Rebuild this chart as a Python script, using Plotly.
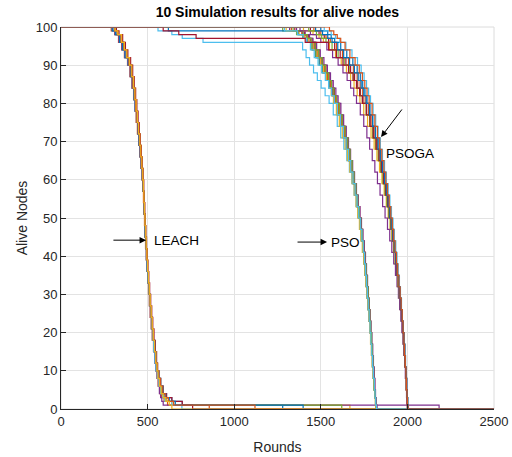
import plotly.graph_objects as go

# MATLAB default colour order
colors = ["#0072BD", "#D95319", "#EDB120", "#7E2F8E", "#77AC30", "#4DBEEE", "#A2142F"]

x_ticks = [0, 500, 1000, 1500, 2000, 2500]
y_ticks = [0, 10, 20, 30, 40, 50, 60, 70, 80, 90, 100]

# alive-node levels; each run lists the round at which it reaches each level
leach_levels = [100, 99, 98, 96, 94, 92, 90, 87, 84, 81, 78, 75, 72, 69, 66, 63, 60, 57, 54, 51,
                48, 45, 42, 39, 36, 33, 30, 27, 24, 21, 18, 15, 12, 10, 8, 6, 4, 3, 2, 1, 0]
leach_runs = [
    [0, 305, 322, 345, 362, 378, 393, 406, 416, 424, 432, 439, 446, 452, 459, 465, 471, 475, 478, 481,
     484, 487, 490, 494, 498, 503, 508, 513, 518, 524, 530, 538, 545, 552, 560, 570, 585, 600, 640, 700, 1280],
    [0, 290, 310, 332, 350, 366, 384, 398, 410, 419, 427, 434, 441, 448, 455, 462, 468, 472, 476, 479,
     482, 485, 488, 492, 496, 500, 505, 510, 515, 521, 527, 534, 541, 547, 554, 561, 570, 580, 595, 615, 856],
    [0, 315, 330, 352, 368, 382, 398, 410, 420, 428, 435, 442, 449, 456, 462, 467, 472, 476, 479, 482,
     485, 488, 492, 496, 500, 505, 510, 516, 521, 527, 533, 540, 548, 555, 562, 570, 580, 592, 610, 640, 1668],
    [0, 298, 312, 335, 352, 368, 386, 400, 411, 420, 428, 436, 443, 450, 457, 463, 469, 473, 477, 480,
     483, 486, 489, 493, 497, 501, 506, 511, 516, 522, 528, 535, 542, 548, 555, 562, 568, 575, 582, 590, 2183],
    [0, 310, 326, 348, 365, 380, 395, 408, 418, 426, 433, 440, 447, 454, 460, 466, 471, 475, 478, 481,
     484, 487, 491, 495, 499, 504, 509, 514, 519, 525, 531, 538, 546, 553, 561, 569, 578, 590, 605, 650, 1621],
    [0, 302, 318, 340, 356, 372, 389, 402, 413, 421, 429, 437, 444, 451, 458, 464, 470, 474, 477, 480,
     483, 486, 489, 493, 497, 501, 506, 511, 517, 522, 528, 535, 542, 548, 556, 565, 575, 588, 600, 640, 698],
    [0, 320, 335, 356, 372, 386, 402, 414, 423, 431, 438, 445, 452, 458, 464, 469, 474, 478, 481, 484,
     487, 490, 494, 498, 502, 507, 512, 518, 524, 530, 537, 545, 552, 558, 565, 575, 590, 610, 640, 700, 760],
    [0, 295, 314, 338, 355, 370, 388, 401, 412, 421, 429, 436, 443, 450, 457, 463, 469, 473, 477, 480,
     483, 486, 490, 494, 498, 503, 508, 514, 520, 526, 533, 541, 549, 557, 566, 576, 590, 605, 625, 660, 1398],
    [0, 308, 324, 346, 363, 377, 392, 405, 415, 423, 431, 438, 445, 452, 458, 464, 470, 474, 477, 480,
     484, 487, 491, 495, 499, 504, 509, 514, 520, 526, 532, 540, 548, 556, 565, 575, 588, 602, 620, 650, 1120],
    [0, 312, 328, 350, 366, 380, 396, 409, 419, 427, 434, 441, 448, 455, 461, 467, 472, 476, 479, 482,
     485, 489, 492, 496, 500, 505, 510, 515, 521, 527, 533, 540, 547, 554, 560, 568, 578, 590, 605, 625, 640],
]

pso_levels = [100, 99, 98, 97, 96, 94, 92, 90, 88, 86, 84, 82, 80, 77, 74, 71, 68, 65, 62, 59,
              56, 53, 50, 47, 44, 41, 38, 35, 32, 29, 26, 23, 20, 17, 14, 11, 8, 5, 3, 1, 0]
pso_runs = [
    [0, 1320, 1395, 1420, 1440, 1462, 1482, 1502, 1522, 1540, 1556, 1572, 1586, 1604, 1621, 1638, 1652, 1665, 1678, 1690,
     1701, 1712, 1722, 1731, 1739, 1747, 1754, 1760, 1766, 1771, 1776, 1781, 1786, 1791, 1796, 1801, 1806, 1810, 1814, 1818, 1822],
    [0, 1280, 1360, 1395, 1420, 1448, 1470, 1490, 1510, 1530, 1548, 1565, 1580, 1598, 1615, 1632, 1647, 1660, 1673, 1685,
     1696, 1706, 1716, 1725, 1733, 1741, 1748, 1755, 1761, 1767, 1772, 1777, 1782, 1788, 1793, 1798, 1803, 1808, 1812, 1816, 1820],
    [0, 560, 640, 700, 820, 1395, 1415, 1435, 1458, 1480, 1502, 1525, 1548, 1572, 1595, 1615, 1633, 1650, 1665, 1679,
     1692, 1704, 1715, 1725, 1734, 1742, 1750, 1757, 1763, 1769, 1774, 1779, 1784, 1789, 1794, 1799, 1804, 1809, 1813, 1817, 1821],
    [0, 1350, 1405, 1430, 1450, 1470, 1490, 1510, 1530, 1548, 1564, 1579, 1593, 1610, 1627, 1643, 1657, 1670, 1682, 1694,
     1705, 1715, 1725, 1734, 1742, 1750, 1757, 1763, 1768, 1773, 1778, 1783, 1788, 1793, 1798, 1802, 1807, 1811, 1815, 1819, 1823],
    [0, 620, 1370, 1400, 1425, 1452, 1474, 1494, 1514, 1533, 1550, 1566, 1581, 1599, 1617, 1634, 1649, 1662, 1675, 1687,
     1698, 1709, 1719, 1728, 1736, 1744, 1751, 1757, 1763, 1768, 1773, 1778, 1783, 1788, 1793, 1798, 1803, 1808, 1812, 1816, 1820],
    [0, 1330, 1390, 1415, 1438, 1460, 1480, 1500, 1520, 1539, 1556, 1571, 1585, 1603, 1620, 1637, 1651, 1664, 1677, 1689,
     1700, 1711, 1721, 1730, 1738, 1746, 1753, 1759, 1765, 1770, 1775, 1780, 1785, 1790, 1795, 1800, 1805, 1809, 1813, 1817, 1821],
    [0, 1300, 1375, 1405, 1428, 1455, 1478, 1498, 1516, 1532, 1546, 1560, 1573, 1590, 1607, 1624, 1640, 1654, 1668, 1681,
     1693, 1704, 1714, 1723, 1732, 1740, 1748, 1755, 1761, 1767, 1772, 1777, 1782, 1787, 1792, 1797, 1802, 1807, 1811, 1815, 1819],
    [0, 1360, 1410, 1435, 1455, 1476, 1497, 1518, 1538, 1556, 1572, 1587, 1600, 1616, 1632, 1647, 1660, 1672, 1684, 1695,
     1706, 1716, 1726, 1735, 1743, 1751, 1758, 1764, 1770, 1775, 1780, 1785, 1790, 1795, 1800, 1804, 1808, 1812, 1816, 1820, 1824],
    [0, 1340, 1398, 1422, 1445, 1468, 1488, 1508, 1527, 1545, 1561, 1576, 1590, 1607, 1624, 1641, 1656, 1669, 1681, 1692,
     1703, 1713, 1722, 1731, 1739, 1747, 1754, 1761, 1767, 1773, 1778, 1783, 1788, 1793, 1797, 1801, 1805, 1809, 1813, 1817, 1821],
    [0, 1290, 1365, 1398, 1418, 1440, 1462, 1484, 1505, 1526, 1545, 1562, 1578, 1596, 1614, 1631, 1646, 1660, 1673, 1686,
     1698, 1709, 1719, 1728, 1737, 1745, 1752, 1758, 1764, 1769, 1774, 1779, 1784, 1789, 1794, 1799, 1804, 1809, 1813, 1817, 1822],
]

psoga_levels = [100, 99, 98, 97, 96, 94, 92, 90, 88, 86, 84, 82, 80, 77, 74, 71, 68, 65, 62, 59,
                56, 53, 50, 47, 44, 41, 38, 35, 32, 29, 26, 23, 20, 17, 14, 11, 8, 5, 3, 1, 0]
psoga_runs = [
    [0, 1440, 1490, 1520, 1545, 1580, 1612, 1645, 1672, 1695, 1713, 1729, 1744, 1765, 1784, 1802, 1818, 1833, 1847, 1860,
     1872, 1883, 1893, 1903, 1913, 1922, 1931, 1939, 1947, 1954, 1961, 1967, 1973, 1978, 1983, 1987, 1991, 1995, 1998, 2000, 2002],
    [0, 1500, 1540, 1560, 1580, 1615, 1650, 1685, 1710, 1728, 1742, 1755, 1767, 1784, 1800, 1816, 1830, 1844, 1857, 1869,
     1880, 1890, 1900, 1909, 1918, 1927, 1935, 1943, 1950, 1957, 1963, 1969, 1974, 1979, 1984, 1988, 1992, 1995, 1998, 2001, 2004],
    [0, 1460, 1500, 1530, 1555, 1590, 1625, 1660, 1688, 1710, 1727, 1742, 1756, 1776, 1795, 1812, 1827, 1841, 1854, 1866,
     1877, 1887, 1897, 1907, 1916, 1925, 1933, 1941, 1949, 1956, 1962, 1968, 1973, 1978, 1983, 1987, 1991, 1994, 1997, 1999, 2001],
    [0, 1400, 1455, 1490, 1515, 1550, 1585, 1618, 1648, 1672, 1692, 1710, 1726, 1748, 1770, 1790, 1808, 1824, 1839, 1853,
     1866, 1878, 1889, 1900, 1910, 1920, 1929, 1938, 1946, 1953, 1960, 1966, 1972, 1977, 1982, 1986, 1990, 1993, 1996, 1998, 2000],
    [0, 1380, 1440, 1475, 1500, 1535, 1568, 1600, 1628, 1652, 1672, 1690, 1706, 1728, 1748, 1766, 1782, 1797, 1812, 1827,
     1842, 1857, 1871, 1885, 1898, 1910, 1921, 1931, 1940, 1948, 1955, 1962, 1968, 1974, 1979, 1984, 1988, 1992, 1995, 1997, 1999],
    [0, 1430, 1475, 1505, 1530, 1565, 1600, 1635, 1664, 1688, 1707, 1724, 1740, 1762, 1782, 1800, 1817, 1832, 1846, 1859,
     1871, 1882, 1892, 1902, 1912, 1921, 1930, 1938, 1946, 1953, 1960, 1966, 1972, 1977, 1982, 1986, 1990, 1994, 1997, 2000, 2003],
    [0, 1520, 1560, 1585, 1610, 1645, 1680, 1712, 1733, 1750, 1764, 1776, 1787, 1802, 1817, 1831, 1844, 1856, 1868, 1879,
     1889, 1899, 1908, 1917, 1925, 1933, 1940, 1947, 1954, 1960, 1966, 1971, 1976, 1981, 1985, 1989, 1993, 1996, 1999, 2002, 2005],
    [0, 590, 680, 780, 1410, 1545, 1590, 1628, 1660, 1686, 1706, 1724, 1740, 1763, 1784, 1803, 1820, 1836, 1850, 1863,
     1875, 1886, 1896, 1906, 1915, 1924, 1932, 1940, 1948, 1955, 1961, 1967, 1973, 1978, 1983, 1987, 1991, 1995, 1998, 2000, 2003],
    [0, 1470, 1510, 1540, 1565, 1598, 1632, 1666, 1694, 1716, 1733, 1748, 1762, 1781, 1799, 1815, 1830, 1843, 1856, 1868,
     1879, 1889, 1899, 1908, 1917, 1926, 1934, 1942, 1950, 1957, 1963, 1969, 1975, 1980, 1985, 1989, 1993, 1996, 1999, 2002, 2006],
    [0, 1550, 1575, 1595, 1615, 1640, 1668, 1698, 1722, 1740, 1754, 1767, 1779, 1796, 1812, 1827, 1840, 1852, 1864, 1875,
     1885, 1895, 1904, 1913, 1921, 1929, 1937, 1944, 1951, 1958, 1964, 1970, 1975, 1980, 1984, 1988, 1992, 1995, 1998, 2001, 2004],
]

max_round = 2500

fig = go.Figure()
k = 0
for levels, runs in [(leach_levels, leach_runs), (pso_levels, pso_runs), (psoga_levels, psoga_runs)]:
    for run in runs:
        xs = list(run) + [max_round]
        ys = list(levels[:len(run)]) + [levels[len(run) - 1]]
        fig.add_trace(go.Scatter(x=xs, y=ys, mode="lines", line=dict(color=colors[k % 7], width=1.2, shape="hv"),
                                 showlegend=False, hoverinfo="skip"))
        k += 1

font_family = "Liberation Sans, Arial, sans-serif"
ann_font = dict(family=font_family, size=13.5, color="black")

fig.add_annotation(x=491, y=44.2, ax=294, ay=44.2, xref="x", yref="y", axref="x", ayref="y",
                   showarrow=True, arrowhead=2, arrowsize=1.3, arrowwidth=1, arrowcolor="black", text="")
fig.add_annotation(x=525, y=44.2, text="LEACH", showarrow=False, xanchor="left", font=ann_font)
fig.add_annotation(x=1536, y=43.7, ax=1357, ay=43.7, xref="x", yref="y", axref="x", ayref="y",
                   showarrow=True, arrowhead=2, arrowsize=1.3, arrowwidth=1, arrowcolor="black", text="")
fig.add_annotation(x=1545, y=43.7, text="PSO", showarrow=False, xanchor="left", font=ann_font)
fig.add_annotation(x=1848, y=71.2, ax=1975, ay=78.8, xref="x", yref="y", axref="x", ayref="y",
                   showarrow=True, arrowhead=2, arrowsize=1.3, arrowwidth=1, arrowcolor="black", text="")
fig.add_annotation(x=1862, y=66.8, text="PSOGA", showarrow=False, xanchor="left", font=ann_font)

# light frame on top/right like the reference
fig.add_shape(type="rect", xref="paper", yref="paper", x0=0, y0=0, x1=1, y1=1,
              line=dict(color="#dcdcdc", width=1), layer="below")

axis_common = dict(showgrid=True, gridcolor="#e3e3e3", gridwidth=1, zeroline=False,
                   showline=True, linecolor="#262626", linewidth=1, automargin=False,
                   ticks="inside", ticklen=5, tickcolor="#262626",
                   tickfont=dict(family=font_family, size=13, color="#262626"))

fig.update_layout(
    width=512, height=457,
    margin=dict(l=61, r=18, t=27, b=48),
    paper_bgcolor="white", plot_bgcolor="white",
    title=dict(text="<b>10 Simulation results for alive nodes</b>", x=0.5418, xanchor="center",
               y=0.985, yanchor="top", font=dict(family=font_family, size=14, color="black")),
    xaxis=dict(range=[0, 2500], tickvals=x_ticks, title=dict(text="Rounds", standoff=14,
               font=dict(family=font_family, size=14, color="#262626")), **axis_common),
    yaxis=dict(range=[0, 100], tickvals=y_ticks, title=dict(text="Alive Nodes", standoff=4,
               font=dict(family=font_family, size=14, color="#262626")), **axis_common),
)

fig.write_html("out.html")
